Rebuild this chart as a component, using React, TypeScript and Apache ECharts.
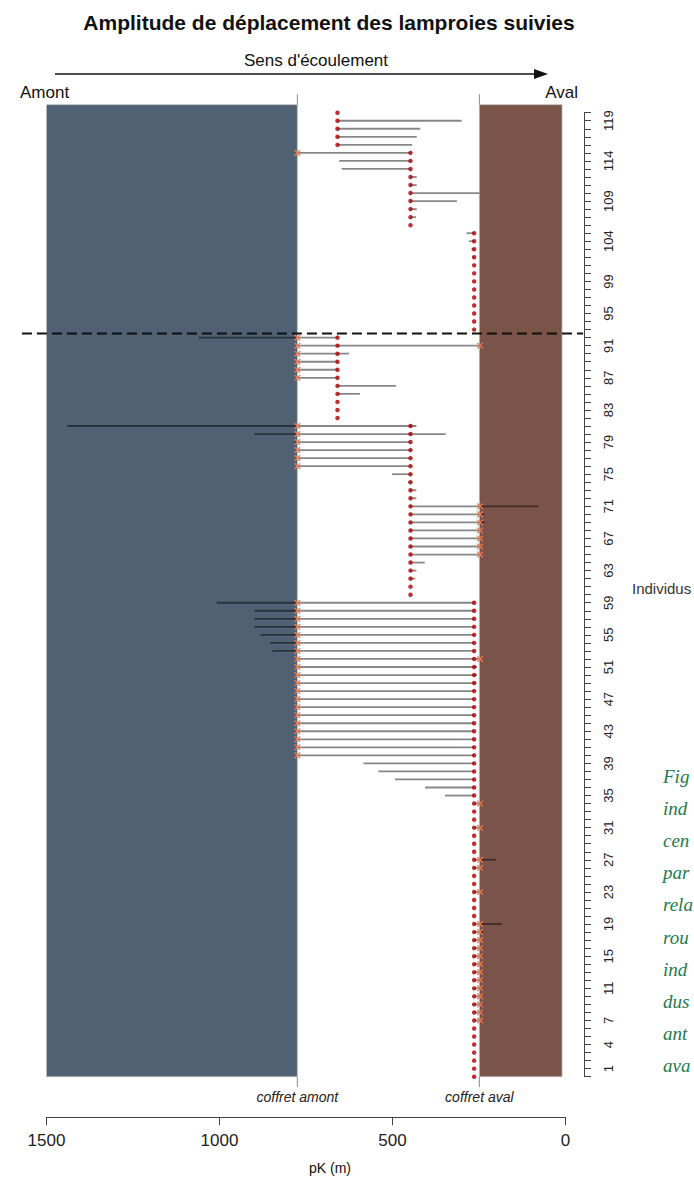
import React, { useEffect, useRef } from "react";
import * as echarts from "echarts";

// ---------- texts ----------
const TITLE = "Amplitude de déplacement des lamproies suivies";
const FLOW_LABEL = "Sens d'écoulement";
const UPSTREAM_LABEL = "Amont";
const DOWNSTREAM_LABEL = "Aval";
const X_AXIS_NAME = "pK (m)";
const Y_AXIS_NAME = "Individus";
const GROUP_LABELS = ["Groupe des\nammocètes", "Groupe des\nadultes"];
const CAPTION_FRAGMENTS = ["Fig", "ind", "cen", "par", "rela", "rou", "ind", "dus", "ant", "ava"];
const COFFRET_LABELS = ["coffret amont", "coffret aval"];

// ---------- axes ----------
const Y_TICK_LABELS = [1, 4, 7, 11, 15, 19, 23, 27, 31, 35, 39, 43, 47, 51, 55, 59, 63, 67, 71, 75, 79, 83, 87, 91, 95, 99, 104, 109, 114, 119];
const SLOT_MIN = 0;
const SLOT_MAX = 120;

// ---------- data (rows listed from top slot 120 down to slot 0) ----------
// pK of the release point (red dot)
const RELEASE_PK = [
  659,
  659, 659, 659, 659,
  448, 448, 448, 448, 448, 448, 448, 448, 448, 448,
  264, 264, 264, 264, 264, 264, 264, 264, 264, 264, 264, 264, 264,
  659, 659, 659, 659, 659, 659, 659, 659, 659, 659, 659,
  448, 448, 448, 448, 448, 448, 448, 448, 448, 448, 448, 448, 448, 448, 448, 448, 448, 448, 448, 448, 448, 448,
  264, 264, 264, 264, 264, 264, 264, 264, 264, 264,
  264, 264, 264, 264, 264, 264, 264, 264, 264, 264,
  264, 264, 264, 264, 264, 264, 264, 264, 264, 264,
  264, 264, 264, 264, 264, 264, 264, 264, 264, 264,
  264, 264, 264, 264, 264, 264, 264, 264, 264, 264,
  264, 264, 264, 264, 264, 264, 264, 264, 264, 264,
];
// most upstream pK reached
const UPSTREAM_PK = [
  659,
  659, 659, 659, 659,
  775, 654, 647, 448, 448, 448, 448, 448, 448, 448,
  286, 279, 272, 268, 264, 264, 264, 264, 264, 264, 264, 264, 264,
  1060, 775, 775, 775, 775, 775, 659, 659, 659, 659, 659,
  1440, 899, 783, 775, 775, 775, 501, 455, 448, 448, 448, 448, 448, 448, 448, 448, 448, 448, 448, 448, 448, 448,
  1008, 899, 899, 899, 881, 854, 847, 775,
  775, 775, 775, 775, 775, 775, 775, 775, 775, 775, 775, 775,
  584, 541, 493, 406, 348,
  264, 264, 264, 264, 264, 264, 264, 264, 264, 264,
  264, 264, 264, 264, 264, 264, 264, 264, 264, 264,
  264, 264, 264, 264, 264, 264, 264, 264, 264, 264,
  264, 264, 264, 264, 264,
];
// most downstream pK reached
const DOWNSTREAM_PK = [
  659,
  300, 420, 430, 443,
  448, 448, 448, 430, 430, 249, 314, 430, 432, 448,
  264, 264, 264, 264, 264, 264, 264, 264, 264, 264, 264, 264, 264,
  659, 245, 626, 659, 659, 659, 490, 594, 659, 659, 659,
  431, 346, 448, 448, 448, 448, 448, 448, 431, 431, 78, 235, 235, 248, 248, 248, 248, 407, 431, 434, 448, 448,
  264, 264, 264, 264, 264, 264, 264, 245,
  256, 256, 258, 264, 264, 264, 264, 264, 264, 264, 264, 264,
  264, 264, 264, 264, 264,
  248, 264, 264, 248, 264, 264, 264, 201, 248, 264, 264, 248, 264, 264, 264,
  184, 238,
  248, 248, 248, 248, 248, 248, 248, 248, 248, 248, 248,
  264, 264, 264, 264, 264, 264, 264,
];
// rows where the fish was detected at the upstream / downstream box
const AMONT_MARK_SLOTS = [115, 92, 91, 90, 89, 88, 87, 81, 80, 79, 78, 77, 76, 59, 58, 57, 56, 55, 54, 53, 52, 51, 50, 49, 48, 47, 46, 45, 44, 43, 42, 41, 40];
const AVAL_MARK_SLOTS = [91, 71, 70, 69, 68, 67, 66, 65, 52, 34, 31, 27, 26, 23, 19, 18, 17, 16, 15, 14, 13, 12, 11, 10, 9, 8, 7];

// ---------- landmarks ----------
const COFFRET_PK = [775, 249];
const AMONT_MARK_PK = 775;
const AVAL_MARK_PK = 247;
const ZONE_FROM_PK = [1500, 249];
const ZONE_TO_PK = [775, 10];
const ZONE_SLOTS = [0, 121];
const ZONE_COLORS = ["#4f6172", "#7a5349"];
const SEPARATOR_SLOT = 92.5;
const SEPARATOR_PK = [1571, -51];

const SANS = '"Liberation Sans", Arial, Helvetica, sans-serif';

function buildOption() {
  const rowSlots = RELEASE_PK.map((_, i) => SLOT_MAX - i);
  const segments = rowSlots
    .map((s, i) => [UPSTREAM_PK[i], DOWNSTREAM_PK[i], s])
    .filter((d) => d[0] !== d[1]);
  const dots = rowSlots.map((s, i) => [RELEASE_PK[i], s]);
  const marks = [
    ...AMONT_MARK_SLOTS.map((s) => [AMONT_MARK_PK, s]),
    ...AVAL_MARK_SLOTS.map((s) => [AVAL_MARK_PK, s]),
  ];
  const zones = ZONE_FROM_PK.map((f, i) => [f, ZONE_TO_PK[i], ZONE_SLOTS[0], ZONE_SLOTS[1]]);
  const coffrets = COFFRET_PK.map((p, i) => [p, i]);

  const graphic: any[] = [
    { type: "text", x: 329, y: 22, style: { text: TITLE, font: `bold 21px ${SANS}`, fill: "#111", textAlign: "center", textVerticalAlign: "middle" } },
    { type: "text", x: 316, y: 60, style: { text: FLOW_LABEL, font: `17px ${SANS}`, fill: "#111", textAlign: "center", textVerticalAlign: "middle" } },
    { type: "line", shape: { x1: 55, y1: 74, x2: 538, y2: 74 }, style: { stroke: "#111", lineWidth: 1.5 } },
    { type: "polygon", shape: { points: [[534, 69], [548, 74], [534, 79]] }, style: { fill: "#111" } },
    { type: "text", x: 20, y: 92, style: { text: UPSTREAM_LABEL, font: `17px ${SANS}`, fill: "#111", textAlign: "left", textVerticalAlign: "middle" } },
    { type: "text", x: 578, y: 92, style: { text: DOWNSTREAM_LABEL, font: `17px ${SANS}`, fill: "#111", textAlign: "right", textVerticalAlign: "middle" } },
    { type: "text", x: 175, y: 222, style: { text: GROUP_LABELS[0], font: `bold 18px ${SANS}`, lineHeight: 22, fill: "#fff", textAlign: "center", textVerticalAlign: "middle" } },
    { type: "text", x: 167, y: 696, style: { text: GROUP_LABELS[1], font: `bold 18px ${SANS}`, lineHeight: 22, fill: "#fff", textAlign: "center", textVerticalAlign: "middle" } },
    { type: "text", x: 632, y: 588, style: { text: Y_AXIS_NAME, font: `15px ${SANS}`, fill: "#333", textAlign: "left", textVerticalAlign: "middle" } },
    { type: "text", x: 330, y: 1168, style: { text: X_AXIS_NAME, font: `14px ${SANS}`, fill: "#111", textAlign: "center", textVerticalAlign: "middle" } },
    ...CAPTION_FRAGMENTS.map((t, i) => ({
      type: "text",
      x: 663,
      y: 776 + i * 32.2,
      style: { text: t, font: `italic 19px "Liberation Serif", "DejaVu Serif", serif`, fill: "#237a4b", textAlign: "left", textVerticalAlign: "middle" },
    })),
  ];

  return {
    animation: false,
    backgroundColor: "#fff",
    grid: { left: 46.5, right: 128.5, top: 112.7, bottom: 102.3, containLabel: false, outerBoundsMode: "none" },
    xAxis: {
      type: "value",
      inverse: true,
      min: 0,
      max: 1500,
      interval: 500,
      position: "bottom",
      offset: 40.5,
      axisLine: { show: true, onZero: false, lineStyle: { color: "#444", width: 1 } },
      axisTick: { show: true, length: 8, lineStyle: { color: "#444" } },
      axisLabel: { fontSize: 17, color: "#222", margin: 15, fontFamily: SANS, formatter: (v: number) => String(v) },
      splitLine: { show: false },
    },
    yAxis: {
      type: "value",
      min: SLOT_MIN,
      max: SLOT_MAX,
      interval: 1,
      position: "right",
      offset: 18.5,
      axisLine: { show: true, onZero: false, lineStyle: { color: "#444", width: 1 } },
      axisTick: { show: true, length: 7, lineStyle: { color: "#444" } },
      axisLabel: {
        rotate: 90,
        margin: 18,
        fontSize: 13,
        color: "#222",
        fontFamily: SANS,
        formatter: (v: number) => (Y_TICK_LABELS.includes(v) ? String(v) : ""),
      },
      splitLine: { show: false },
    },
    graphic,
    series: [
      {
        type: "custom",
        name: "zones",
        clip: false,
        silent: true,
        z: 1,
        data: zones,
        renderItem: (params: any, api: any) => {
          const a = api.coord([api.value(0), api.value(3)]);
          const b = api.coord([api.value(1), api.value(2)]);
          return {
            type: "rect",
            shape: { x: Math.min(a[0], b[0]), y: Math.min(a[1], b[1]), width: Math.abs(b[0] - a[0]), height: Math.abs(b[1] - a[1]) },
            style: { fill: ZONE_COLORS[params.dataIndex], stroke: "rgba(190,190,190,0.9)", lineWidth: 0.8 },
          };
        },
      },
      {
        type: "custom",
        name: "coffrets",
        clip: false,
        silent: true,
        z: 2,
        data: coffrets,
        renderItem: (params: any, api: any) => {
          const pk = api.value(0);
          const top0 = api.coord([pk, ZONE_SLOTS[1]]);
          const top1 = api.coord([pk, ZONE_SLOTS[1] + 1.3]);
          const bot0 = api.coord([pk, ZONE_SLOTS[0]]);
          const bot1 = api.coord([pk, ZONE_SLOTS[0] - 1.3]);
          const lab = api.coord([pk, ZONE_SLOTS[0] - 2.5]);
          return {
            type: "group",
            children: [
              { type: "line", shape: { x1: top0[0], y1: top0[1], x2: top1[0], y2: top1[1] }, style: { stroke: "#888", lineWidth: 1 } },
              { type: "line", shape: { x1: bot0[0], y1: bot0[1], x2: bot1[0], y2: bot1[1] }, style: { stroke: "#888", lineWidth: 1 } },
              {
                type: "text",
                x: lab[0],
                y: lab[1],
                style: { text: COFFRET_LABELS[params.dataIndex], font: `italic 14px ${SANS}`, fill: "#222", align: "center", verticalAlign: "middle", textAlign: "center", textVerticalAlign: "middle" },
              },
            ],
          };
        },
      },
      {
        type: "custom",
        name: "amplitude",
        clip: false,
        silent: true,
        z: 3,
        data: segments,
        renderItem: (params: any, api: any) => {
          const s = api.value(2);
          const p1 = api.coord([api.value(0), s]);
          const p2 = api.coord([api.value(1), s]);
          return { type: "line", shape: { x1: p1[0], y1: p1[1], x2: p2[0], y2: p2[1] }, style: { stroke: "rgba(0,0,0,0.47)", lineWidth: 1.8 } };
        },
      },
      {
        type: "custom",
        name: "separation",
        clip: false,
        silent: true,
        z: 4,
        data: [[SEPARATOR_PK[0], SEPARATOR_PK[1], SEPARATOR_SLOT]],
        renderItem: (params: any, api: any) => {
          const p1 = api.coord([api.value(0), api.value(2)]);
          const p2 = api.coord([api.value(1), api.value(2)]);
          return { type: "line", shape: { x1: p1[0], y1: p1[1], x2: p2[0], y2: p2[1] }, style: { stroke: "#111", lineWidth: 2, lineDash: [10, 5] } };
        },
      },
      {
        type: "custom",
        name: "détections",
        clip: false,
        silent: true,
        z: 5,
        data: marks,
        renderItem: (params: any, api: any) => {
          const c = api.coord([api.value(0), api.value(1)]);
          const r = 2.8;
          return {
            type: "group",
            children: [
              { type: "line", shape: { x1: c[0] - r, y1: c[1] - r, x2: c[0] + r, y2: c[1] + r }, style: { stroke: "#ee7a52", lineWidth: 1.3 } },
              { type: "line", shape: { x1: c[0] - r, y1: c[1] + r, x2: c[0] + r, y2: c[1] - r }, style: { stroke: "#ee7a52", lineWidth: 1.3 } },
            ],
          };
        },
      },
      {
        type: "scatter",
        name: "lâcher",
        silent: true,
        z: 6,
        symbol: "circle",
        symbolSize: 4.5,
        itemStyle: { color: "#a80000" },
        data: dots,
      },
    ],
  };
}

export default function App() {
  const ref = useRef<HTMLDivElement>(null);
  useEffect(() => {
    if (!ref.current) return;
    const chart = echarts.init(ref.current, null, { renderer: "svg" });
    chart.setOption(buildOption() as any);
    return () => chart.dispose();
  }, []);
  return <div ref={ref} style={{ position: "absolute", left: 0, top: 0, width: 694, height: 1179, background: "#fff" }} />;
}
